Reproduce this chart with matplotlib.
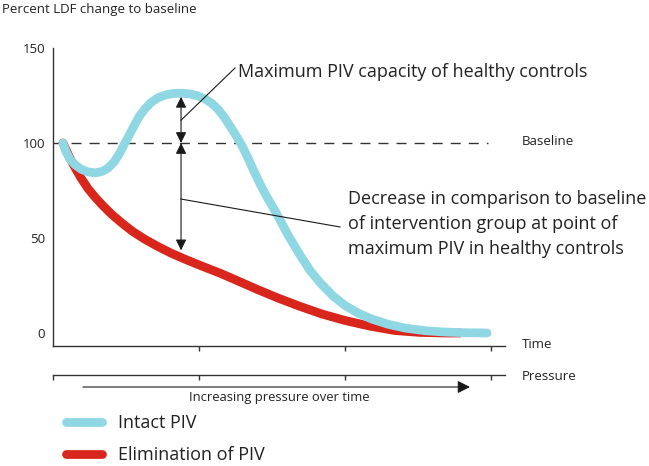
import matplotlib
matplotlib.use("Agg")
import matplotlib.pyplot as plt
from matplotlib.lines import Line2D

plt.rcParams['font.family'] = ['Open Sans', 'DejaVu Sans']

# ---- data (time in tick units, value in percent of baseline) ----
intact_t = [0.068, 0.089, 0.116, 0.151, 0.192, 0.240, 0.288, 0.336, 0.377, 0.418,
            0.452, 0.486, 0.521, 0.555, 0.589, 0.630, 0.671, 0.719, 0.774, 0.829,
            0.884, 0.938, 0.993, 1.041, 1.089, 1.130, 1.171, 1.212, 1.253, 1.295,
            1.336, 1.377, 1.418, 1.466, 1.534, 1.610, 1.692, 1.760, 1.829, 1.918,
            2.000, 2.089, 2.185, 2.295, 2.411, 2.548, 2.685, 2.822, 2.973]
intact_v = [100, 95.5, 91.5, 88.5, 86.2, 84.8, 84.3, 85, 86.8, 90,
            94, 99, 104, 109, 113.8, 118, 121.3, 123.8, 125.4, 126.1,
            126.2, 125.8, 124.8, 123.2, 120.8, 117.8, 113.8, 109, 104, 98.5,
            92, 85, 78.5, 71.5, 62.5, 51.5, 41, 33, 26.5, 19.5,
            14.5, 10.5, 7.3, 4.6, 2.6, 1.2, 0.5, 0.15, 0]

elim_t = [0.068, 0.089, 0.116, 0.151, 0.192, 0.240, 0.288, 0.342, 0.404, 0.473,
          0.548, 0.630, 0.719, 0.815, 0.918, 1.027, 1.144, 1.267, 1.397, 1.541,
          1.692, 1.842, 2.000, 2.171, 2.342, 2.514, 2.685, 2.788]
elim_v = [100, 96.5, 92, 87, 81.5, 76, 71.5, 67, 62.3, 57.8,
          53.3, 49.3, 45.5, 41.8, 38.4, 35, 31.5, 27.4, 23.0, 18.4,
          14.0, 10.0, 6.6, 3.6, 1.3, 0.3, 0, 0]

baseline = 100
baseline_end = 2.979
ytick_vals = [0, 50, 100, 150]
ytick_labels = ["0", "50", "100", "150"]
time_ticks = [1, 2, 3]
pressure_ticks = [0, 1, 2, 3]
marker_t = 0.877
peak_top = 124.3
elim_at_peak = 43.5

CYAN = '#8fd7e2'
RED = '#d9261c'
DARK = '#333333'
TXT = '#222222'

W, H = 649, 466
fig = plt.figure(figsize=(W / 100, H / 100), dpi=100)

def fx(px):
    return px / W

def fy(py):
    return 1 - py / H

ax = fig.add_axes([fx(53), fy(346), (505 - 53) / W, (346 - 48) / H])
ax.set_xlim(0, 3.096)
ax.set_ylim(-6.84, 150)
for s in ['top', 'right']:
    ax.spines[s].set_visible(False)
for s in ['left', 'bottom']:
    ax.spines[s].set_color(DARK)
    ax.spines[s].set_linewidth(1.0)
ax.set_yticks(ytick_vals)
ax.set_yticklabels(ytick_labels)
ax.tick_params(axis='y', length=0, pad=5.5, labelsize=9.5, labelcolor=TXT)
ax.set_xticks(time_ticks)
ax.set_xticklabels([])
ax.tick_params(axis='x', direction='out', length=3.6, width=1.0, color=DARK)

# baseline
ax.plot([0, baseline_end], [baseline, baseline], color=DARK, lw=1.0,
        dashes=(7.2, 5.8), zorder=1)

# curves
ax.plot(elim_t, elim_v, color=RED, lw=6.3, solid_capstyle='round',
        solid_joinstyle='round', zorder=2, clip_on=False)
ax.plot(intact_t, intact_v, color=CYAN, lw=6.3, solid_capstyle='round',
        solid_joinstyle='round', zorder=3, clip_on=False)

# double arrows
arrow_kw = dict(arrowstyle='<|-|>,head_length=0.65,head_width=0.32',
                mutation_scale=10, color='#1a1a1a', lw=0.8,
                shrinkA=0, shrinkB=0)
ax.annotate('', xy=(marker_t, peak_top), xytext=(marker_t, baseline),
            arrowprops=arrow_kw, zorder=5)
ax.annotate('', xy=(marker_t, elim_at_peak), xytext=(marker_t, baseline),
            arrowprops=arrow_kw, zorder=5)

# leader lines and labels
ax.plot([marker_t, 1.247], [112, 139.5], color='#1a1a1a', lw=0.8, zorder=5,
        clip_on=False)
ax.text(1.267, 137.3, "Maximum PIV capacity of healthy controls", fontsize=13,
        color=TXT, va='center', ha='left', clip_on=False)

ax.plot([marker_t, 1.966], [70.5, 55.8], color='#1a1a1a', lw=0.8, zorder=5,
        clip_on=False)
dec_lines = ["Decrease in comparison to baseline",
             "of intervention group at point of",
             "maximum PIV in healthy controls"]
for line, yv in zip(dec_lines, [70.5, 57.4, 44.2]):
    ax.text(2.021, yv, line, fontsize=13, color=TXT, va='center', ha='left',
            clip_on=False)

ax.text(3.212, baseline + 0.8, "Baseline", fontsize=9.5, color=TXT, va='center',
        ha='left', clip_on=False)
ax.text(3.212, -6.3, "Time", fontsize=9.5, color=TXT, va='center', ha='left',
        clip_on=False)

# pressure axis
ax2 = fig.add_axes([fx(53), fy(375), (505 - 53) / W, 0.0001])
ax2.set_xlim(0, 3.096)
for s in ['top', 'right', 'left']:
    ax2.spines[s].set_visible(False)
ax2.spines['bottom'].set_color(DARK)
ax2.spines['bottom'].set_linewidth(1.0)
ax2.set_yticks([])
ax2.set_xticks(pressure_ticks)
ax2.set_xticklabels([])
ax2.tick_params(axis='x', direction='out', length=3.6, width=1.0, color=DARK)
ax2.patch.set_visible(False)

fig.text(fx(522), fy(376), "Pressure", fontsize=9.5, color=TXT, va='center',
         ha='left')

ax2.annotate('', xy=(2.856, fy(387)), xytext=(0.205, fy(387)),
             xycoords=('data', 'figure fraction'),
             textcoords=('data', 'figure fraction'),
             arrowprops=dict(arrowstyle='-|>,head_length=0.75,head_width=0.38',
                             mutation_scale=10, color='#1a1a1a', lw=0.8,
                             shrinkA=0, shrinkB=0))
fig.text(fx(279), fy(397), "Increasing pressure over time", fontsize=9.4,
         color=TXT, va='center', ha='center')

fig.text(fx(2), fy(10), "Percent LDF change to baseline", fontsize=9.5,
         color=TXT, va='center', ha='left')

# legend
h1 = Line2D([], [], color=CYAN, lw=6.3, solid_capstyle='round')
h2 = Line2D([], [], color=RED, lw=6.3, solid_capstyle='round')
leg = fig.legend([h1, h2], ["Intact PIV", "Elimination of PIV"],
                 loc='upper left', bbox_to_anchor=(fx(66), fy(414)),
                 frameon=False, fontsize=13, handlelength=1.98,
                 handletextpad=0.9, labelspacing=0.8, borderpad=0,
                 borderaxespad=0)
for t in leg.get_texts():
    t.set_color(TXT)

fig.savefig("out.png", dpi=100)
